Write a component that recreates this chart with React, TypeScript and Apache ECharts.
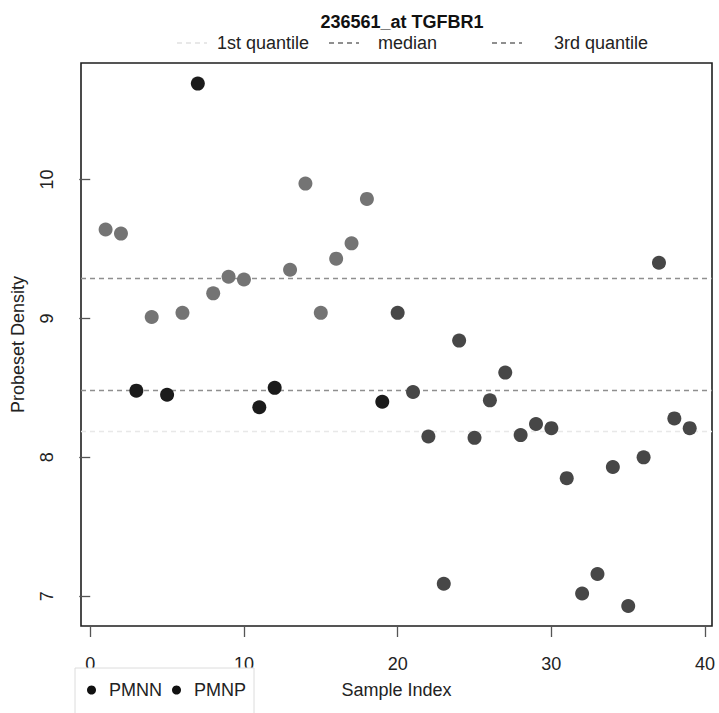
import React, { useEffect, useRef } from "react";
import * as echarts from "echarts";

// Probeset density per sample for 236561_at (TGFBR1)
const sampleIndex = [
  1, 2, 3, 4, 5, 6, 7, 8, 9, 10, 11, 12, 13, 14, 15, 16, 17, 18, 19, 20,
  21, 22, 23, 24, 25, 26, 27, 28, 29, 30, 31, 32, 33, 34, 35, 36, 37, 38, 39,
];
const density = [
  9.64, 9.61, 8.48, 9.01, 8.45, 9.04, 10.69, 9.18, 9.3, 9.28, 8.36, 8.5, 9.35,
  9.97, 9.04, 9.43, 9.54, 9.86, 8.4, 9.04, 8.47, 8.15, 7.09, 8.84, 8.14, 8.41,
  8.61, 8.16, 8.24, 8.21, 7.85, 7.02, 7.16, 7.93, 6.93, 8.0, 9.4, 8.28, 8.21,
];
// samples belonging to the PMNN group; all others are PMNP
const pmnnSamples = [3, 5, 7, 11, 12, 19];

const xTickValues = [0, 10, 20, 30, 40];
const yTickValues = [7, 8, 9, 10];

const FONT = "'Liberation Sans', Arial, Helvetica, sans-serif";
const FS = 18;

// R-style (type 7) quantile
function quantile(values: number[], p: number): number {
  const s = [...values].sort((a, b) => a - b);
  const h = (s.length - 1) * p;
  const lo = Math.floor(h);
  const hi = Math.ceil(h);
  return s[lo] + (h - lo) * (s[hi] - s[lo]);
}

export default function App() {
  const ref = useRef<HTMLDivElement>(null);

  useEffect(() => {
    if (!ref.current) return;
    const chart = echarts.init(ref.current, null, { renderer: "svg" });

    const pmnn = sampleIndex
      .filter((i) => pmnnSamples.includes(i))
      .map((i) => [i, density[i - 1]]);
    const pmnp = sampleIndex
      .filter((i) => !pmnnSamples.includes(i))
      .map((i) => [i, density[i - 1]]);

    const q1 = quantile(density, 0.25);
    const med = quantile(density, 0.5);
    const q3 = quantile(density, 0.75);

    const quantLine = (name: string, value: number, color: string) => ({
      name,
      type: "line",
      data: [],
      symbol: "none",
      silent: true,
      itemStyle: { color, opacity: 0 },
      lineStyle: { color, width: 1.3, type: [5, 4] },
      markLine: {
        silent: true,
        symbol: "none",
        label: { show: false },
        lineStyle: { color, width: 1.3, type: [5, 4] },
        data: [{ yAxis: value }],
      },
    });

    const topLegend = (name: string, left: number, gap: number) => ({
      data: [name],
      left,
      top: 34,
      padding: 0,
      orient: "horizontal",
      itemWidth: 30,
      itemHeight: 14,
      selectedMode: false,
      itemStyle: { opacity: 0 },
      textStyle: {
        fontFamily: FONT,
        fontSize: FS,
        color: "#222",
        padding: [0, 0, 0, gap],
      },
    });

    chart.setOption({
      animation: false,
      backgroundColor: "#ffffff",
      title: {
        text: "236561_at TGFBR1",
        left: 397,
        top: 8,
        textAlign: "center",
        textStyle: {
          fontFamily: FONT,
          fontSize: FS,
          fontWeight: "bold",
          color: "#111",
        },
      },
      legend: [
        topLegend("1st quantile", 176, 5),
        topLegend("median", 328, 14),
        topLegend("3rd quantile", 491, 27),
        {
          data: [
            { name: "PMNN", itemStyle: { color: "#111", opacity: 1 } },
            { name: "PMNP", itemStyle: { color: "#111", opacity: 1 } },
          ],
          left: 75,
          top: 668,
          icon: "circle",
          itemWidth: 9,
          itemHeight: 9,
          itemGap: 10,
          selectedMode: false,
          borderColor: "#dcdcdc",
          borderWidth: 1,
          backgroundColor: "#fff",
          padding: [13, 8, 24, 12],
          textStyle: {
            fontFamily: FONT,
            fontSize: FS,
            color: "#222",
            padding: [0, 0, 0, 8],
          },
        },
      ],
      grid: {
        left: 81,
        right: 7,
        top: 63,
        bottom: 87,
        show: true,
        borderColor: "#1e1e1e",
        borderWidth: 1.6,
        backgroundColor: "transparent",
      },
      xAxis: {
        type: "value",
        min: -0.6,
        max: 40.45,
        name: "Sample Index",
        nameLocation: "middle",
        nameGap: 55,
        nameTextStyle: { fontFamily: FONT, fontSize: FS, color: "#222" },
        splitLine: { show: false },
        axisLine: { show: false },
        axisTick: {
          show: true,
          length: 11,
          customValues: xTickValues,
          lineStyle: { color: "#555", width: 1.3 },
        },
        axisLabel: {
          customValues: xTickValues,
          margin: 29,
          fontFamily: FONT,
          fontSize: FS,
          color: "#222",
        },
      },
      yAxis: {
        type: "value",
        min: 6.786,
        max: 10.838,
        name: "Probeset Density",
        nameLocation: "middle",
        nameRotate: 90,
        nameGap: 54,
        nameTextStyle: { fontFamily: FONT, fontSize: FS, color: "#222" },
        splitLine: { show: false },
        axisLine: { show: false },
        axisTick: {
          show: true,
          length: 11,
          customValues: yTickValues,
          lineStyle: { color: "#555", width: 1.3 },
        },
        axisLabel: {
          customValues: yTickValues,
          rotate: 90,
          margin: 25,
          fontFamily: FONT,
          fontSize: FS,
          color: "#222",
        },
      },
      series: [
        quantLine("1st quantile", q1, "#e8e8e8"),
        quantLine("median", med, "#8f8f8f"),
        quantLine("3rd quantile", q3, "#8f8f8f"),
        {
          name: "PMNN",
          type: "scatter",
          data: pmnn,
          symbolSize: 14,
          z: 5,
          itemStyle: { color: "#1b1b1b", opacity: 1 },
        },
        {
          name: "PMNP",
          type: "scatter",
          data: pmnp,
          symbolSize: 14,
          z: 5,
          itemStyle: {
            opacity: 1,
            color: (p: any) => (p.value[0] < 20 ? "#747474" : "#474747"),
          },
        },
      ],
    });

    return () => chart.dispose();
  }, []);

  return (
    <div
      ref={ref}
      style={{ position: "fixed", left: 0, top: 0, width: 719, height: 713 }}
    />
  );
}
